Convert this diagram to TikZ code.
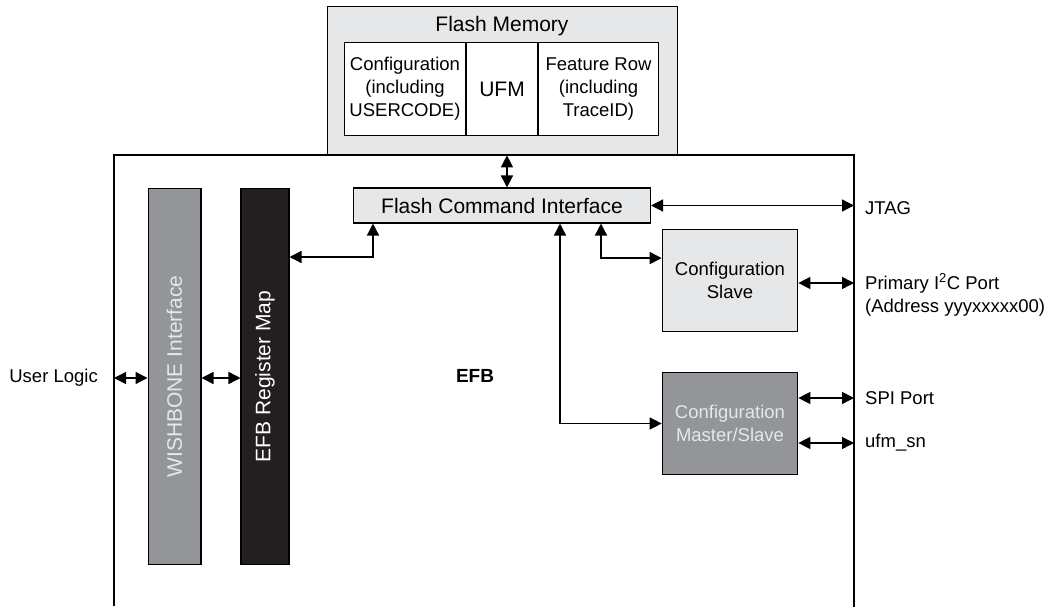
\documentclass[tikz,border=0pt]{standalone}
\usepackage{fontspec}
\setmainfont{Liberation Sans}
\usetikzlibrary{arrows.meta}
\definecolor{lgray}{RGB}{230,231,232}
\definecolor{mgray}{RGB}{147,149,152}
\definecolor{dblack}{RGB}{35,31,32}
\begin{document}
\begin{tikzpicture}[x=1bp,y=-1bp,
  box/.style={draw=black, line width=1.2bp, inner sep=0pt, align=center},
  fsA/.style={font=\fontsize{18.5bp}{23bp}\selectfont},
  fsB/.style={font=\fontsize{21bp}{24bp}\selectfont},
  link/.style={line width=1.4bp, {Triangle[length=12bp,width=12bp]}-{Triangle[length=12bp,width=12bp]}},
  lbl/.style={fsA, inner sep=0pt, align=left}
]
\useasboundingbox (0,0) rectangle (1049,607);
% EFB outline (open at the bottom)
\coordinate (efbBL) at (114,606);
\coordinate (efbTL) at (114,155);
\coordinate (efbTR) at (854,155);
\coordinate (efbBR) at (854,607);
\draw[line width=1.2bp] (efbBL) -- (efbTL) -- (efbTR) -- (efbBR);
\node[font=\fontsize{19bp}{22bp}\selectfont\bfseries] (efb) at (475,376) {EFB};

% Flash memory
\node[box, fill=lgray, minimum width=351, minimum height=149] (fm) at (502.5,80.5) {};
\node[fsB] (fmt) at (502,26) {Flash Memory};
\node[box, fill=white, fsA, minimum width=122, minimum height=94] (cfg) at (405,89) {Configuration\\(including\\USERCODE)};
\node[box, fill=white, fsB, minimum width=72, minimum height=94] (ufm) at (502,89) {UFM};
\node[box, fill=white, fsA, minimum width=121, minimum height=94] (feat) at (598.5,89) {Feature Row\\(including\\TraceID)};

% Flash command interface
\node[box, fill=lgray, fsB, minimum width=298, minimum height=35] (fci) at (502,205.5) {Flash Command Interface};
\draw[link] ([xshift=5]fci.north |- fm.south) -- ([xshift=5]fci.north);

% Configuration slave / master
\node[box, fill=lgray, fsA, minimum width=136, minimum height=103] (slv) at (730,280.5) {Configuration\\Slave};
\node[box, fill=mgray, fsA, text=lgray, minimum width=136, minimum height=103] (mst) at (730,423.5) {Configuration\\Master/Slave};

% Bars
\node[box, fill=mgray, fsB, text=lgray, rotate=90, minimum width=377, minimum height=53] (wb) at (174.5,376.5) {WISHBONE Interface};
\node[box, fill=dblack, fsB, text=white, rotate=90, minimum width=377, minimum height=48] (rm) at (265,376.5) {EFB Register Map};

% Right-side labels
\node[lbl, anchor=west] (jtag) at (865,208) {JTAG};
\node[lbl, anchor=west] (i2c) at (865,295) {Primary I\textsuperscript{2}C Port\\(Address yyyxxxxx00)};
\node[lbl, anchor=west] (spi) at (865,398) {SPI Port};
\node[lbl, anchor=west] (ufmsn) at (865,443) {ufm\_sn};
\node[lbl, anchor=east] (user) at (98,378) {User Logic};

% connectors
\draw[link] (fci.east) -- (fci.east -| efbTR);
\draw[link] (fci.south -| 601,0) |- ([yshift=22.5]slv.west);
\draw[link] (fci.south -| 560,0) |- (mst.west);
\draw[link] (slv.east |- 0,283) -- (efbTR |- 0,283);
\draw[link] (mst.east |- 0,398) -- (efbTR |- 0,398);
\draw[link] (mst.east |- 0,443) -- (efbTR |- 0,443);
\draw[link] (rm.south |- 0,257) -| (fci.south -| 373,0);
\draw[link] (efbTL |- 0,378) -- (wb.north |- 0,378);
\draw[link] (wb.south |- 0,378) -- (rm.north |- 0,378);
\end{tikzpicture}
\end{document}
